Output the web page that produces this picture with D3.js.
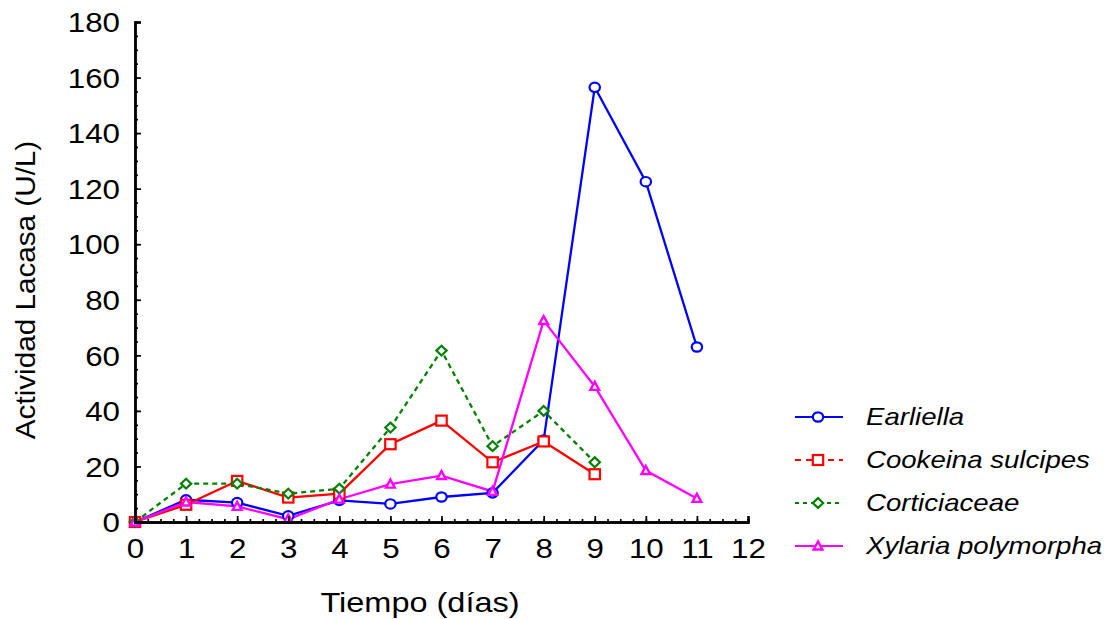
<!DOCTYPE html>
<html>
<head>
<meta charset="utf-8">
<script src="https://cdn.jsdelivr.net/npm/d3@7"></script>
<style>
  html, body { margin: 0; padding: 0; background: #fff; }
  svg text { font-family: "Liberation Sans", Arial, sans-serif; fill: #000; }
</style>
</head>
<body>
<svg id="chart" width="1111" height="619"></svg>
<script>
// Laccase activity over time for four fungal strains
const days = [0, 1, 2, 3, 4, 5, 6, 7, 8, 9, 10, 11];
const earliella = [0, 8, 7, 2.2, 7.8, 6.5, 9, 10.5, 29.5, 156.5, 122.5, 63];
const cookeina = [0, 6.2, 14.8, 8.8, 10.2, 28, 36.5, 21.5, 29, 17.2];
const corticiaceae = [0, 13.8, 13.8, 10.2, 12, 34, 61.7, 27.3, 40, 21.5];
const xylaria = [0, 7.2, 5.6, 1, 8.2, 13.6, 16.7, 11, 72.5, 48.8, 18.5, 8.5];

const seriesNames = ["Earliella", "Cookeina sulcipes", "Corticiaceae", "Xylaria polymorpha"];
const seriesValues = [earliella, cookeina, corticiaceae, xylaria];
const seriesColors = ["#0000ff", "#ff0000", "#008000", "#ff00ff"];
const seriesDash = [null, null, "5,4", null];
const legendDash = [null, "6,5", "4,4", null];
const seriesSymbols = ["circle", "square", "diamond", "triangle"];

const xTicks = d3.range(0, 13, 1);
const yTicks = d3.range(0, 181, 20);

// text is drawn slightly widened
const SX = 1.16;

const svg = d3.select("#chart");
const x = d3.scaleLinear().domain([0, 12]).range([135, 748]);
const y = d3.scaleLinear().domain([0, 180]).range([522, 22]);

// marker drawing
function drawMarker(g, type, color, cx, cy) {
  if (type === "circle") {
    g.append("ellipse").attr("cx", cx).attr("cy", cy).attr("rx", 5.2).attr("ry", 4.7)
      .attr("fill", "#fff").attr("stroke", color).attr("stroke-width", 2.2);
  } else if (type === "square") {
    g.append("rect").attr("x", cx - 5.2).attr("y", cy - 5).attr("width", 10.4).attr("height", 10)
      .attr("fill", "#fff").attr("stroke", color).attr("stroke-width", 2.2);
  } else if (type === "diamond") {
    const s = 4.9;
    g.append("path").attr("d", `M${cx},${cy - s}L${cx + s * 1.05},${cy}L${cx},${cy + s}L${cx - s * 1.05},${cy}Z`)
      .attr("fill", "#fff").attr("stroke", color).attr("stroke-width", 2.2);
  } else if (type === "triangle") {
    const s = 4.6;
    g.append("path").attr("d", `M${cx},${cy - s}L${cx + s * 0.95},${cy + s * 0.75}L${cx - s * 0.95},${cy + s * 0.75}Z`)
      .attr("fill", "#fff").attr("stroke", color).attr("stroke-width", 2.4);
  }
}

// series lines and markers
const line = d3.line().x((d, i) => x(days[i])).y(d => y(d));
seriesValues.forEach((vals, k) => {
  svg.append("path").datum(vals).attr("d", line)
    .attr("fill", "none").attr("stroke", seriesColors[k]).attr("stroke-width", 2.3)
    .attr("stroke-dasharray", seriesDash[k]);
});
seriesValues.forEach((vals, k) => {
  const g = svg.append("g");
  vals.forEach((v, i) => drawMarker(g, seriesSymbols[k], seriesColors[k], x(days[i]), y(v)));
});

// axes with inward ticks
const xAxis = svg.append("g").attr("transform", `translate(0,${y(0)})`);
xAxis.call(d3.axisBottom(x).tickValues(xTicks).tickSize(-6).tickPadding(17).tickFormat(d3.format("d")));
const xMinor = svg.append("g").attr("transform", `translate(0,${y(0)})`);
xMinor.call(d3.axisBottom(x).tickValues(d3.range(0, 12.01, 0.25)).tickSize(-3).tickFormat(""));

const yAxis = svg.append("g").attr("transform", `translate(${x(0)},0)`);
yAxis.call(d3.axisLeft(y).tickValues(yTicks).tickSize(-6).tickPadding(15));
const yMinor = svg.append("g").attr("transform", `translate(${x(0)},0)`);
yMinor.call(d3.axisLeft(y).tickValues(d3.range(0, 181, 5)).tickSize(-3).tickFormat(""));

[xAxis, xMinor, yAxis, yMinor].forEach(a => {
  a.select(".domain").attr("stroke", "#000").attr("stroke-width", 2.4);
  a.selectAll(".tick line").attr("stroke", "#000").attr("stroke-width", 1.7);
  a.selectAll("text").attr("font-size", 27).attr("font-family", "Liberation Sans, Arial, sans-serif").attr("fill", "#000");
});
xAxis.selectAll("text").attr("dy", "0.71em").attr("transform", `scale(${SX},1)`);
yAxis.selectAll("text").attr("dy", "0.36em")
  .attr("x", -15 / SX).attr("transform", `scale(${SX},1)`);

// axis titles
svg.append("text").attr("transform", `translate(420,612) scale(${SX},1)`).attr("text-anchor", "middle")
  .attr("font-size", 28).text("Tiempo (días)");
svg.append("text").attr("transform", "translate(35,290) rotate(-90) scale(1.06,1)").attr("text-anchor", "middle")
  .attr("font-size", 28).text("Actividad Lacasa (U/L)");

// legend
const legendY = [417, 460, 503, 546];
seriesNames.forEach((name, k) => {
  const g = svg.append("g");
  const ly = legendY[k];
  g.append("line").attr("x1", 795).attr("x2", 843).attr("y1", ly).attr("y2", ly)
    .attr("stroke", seriesColors[k]).attr("stroke-width", 2.2).attr("stroke-dasharray", legendDash[k]);
  drawMarker(g, seriesSymbols[k], seriesColors[k], 818, ly);
  g.append("text").attr("transform", `translate(866,${ly}) scale(1.2,1)`).attr("dy", "0.36em")
    .attr("font-size", 23).attr("font-style", "italic").text(name);
});
</script>
</body>
</html>
